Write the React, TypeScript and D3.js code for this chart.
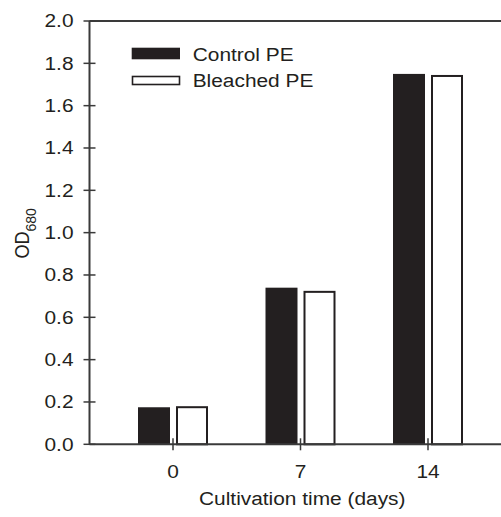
import React from "react";
import * as d3 from "d3";

const days = [0, 7, 14];
const dayLabels = ["0", "7", "14"];
const series = ["Control PE", "Bleached PE"];
const controlValues = [0.175, 0.74, 1.75];
const bleachedValues = [0.18, 0.725, 1.745];
const yTicks = [0, 0.2, 0.4, 0.6, 0.8, 1.0, 1.2, 1.4, 1.6, 1.8, 2.0];

const W = 501;
const H = 517;
const INK = "#231f20";
const AXIS = "#3a3a3a";
const FONT = "'Liberation Sans', Arial, Helvetica, sans-serif";
const SX = 1.16;

function T(props: {
  x: number;
  y: number;
  anchor?: string;
  baseline?: string;
  size?: number;
  children: React.ReactNode;
}) {
  const { x, y, anchor = "start", baseline, size = 18, children } = props;
  return (
    <text
      transform={`translate(${x},${y}) scale(${SX},1)`}
      textAnchor={anchor}
      dominantBaseline={baseline}
      fontSize={size}
      fill={INK}
    >
      {children}
    </text>
  );
}

export default function App() {
  const left = 89.5;
  const top = 21;
  const bottom = 444.3;
  const x = d3.scaleLinear().domain([0, 14]).range([173, 428]);
  const xEnd = x.invert(515);
  const xMin = x.invert(left);
  const y = d3.scaleLinear().domain([0, 2]).range([bottom, top]);
  const sub = d3.scaleBand<string>().domain(series).range([-35, 35]).paddingInner(0.158);
  const bw = sub.bandwidth();
  const valuesBySeries = [controlValues, bleachedValues];
  const axisMid = (x(xMin) + x(xEnd)) / 2;

  return (
    <div style={{ position: "fixed", left: 0, top: 0, width: W, height: H, overflow: "hidden", background: "#fff" }}>
      <svg width={W} height={H} style={{ display: "block", background: "#fff" }} fontFamily={FONT}>
        {series.map((s, si) =>
          days.map((d, i) => {
            const v = valuesBySeries[si][i];
            const x0 = x(d) + (sub(s) as number);
            return si === 0 ? (
              <rect key={s + d} x={x0} y={y(v)} width={bw} height={y(0) - y(v)} fill={INK} />
            ) : (
              <rect
                key={s + d}
                x={x0 + 1}
                y={y(v) + 1}
                width={bw - 2}
                height={y(0) - y(v) - 1}
                fill="#fff"
                stroke={INK}
                strokeWidth={2}
              />
            );
          })
        )}
        <line x1={left} x2={x(xEnd)} y1={top} y2={top} stroke={AXIS} strokeWidth={2} />
        <line x1={left} x2={left} y1={top} y2={bottom} stroke={AXIS} strokeWidth={2} />
        {yTicks.map((t) => (
          <g key={t}>
            <line x1={left - 6} x2={left + 6} y1={y(t)} y2={y(t)} stroke={AXIS} strokeWidth={1.5} />
            <T x={left - 16} y={y(t)} anchor="end" baseline="central">
              {d3.format(".1f")(t)}
            </T>
          </g>
        ))}
        <line x1={x(xMin)} x2={x(xEnd)} y1={bottom} y2={bottom} stroke={AXIS} strokeWidth={2} />
        {days.map((d, i) => (
          <g key={d}>
            <line x1={x(d)} x2={x(d)} y1={bottom - 6} y2={bottom + 6} stroke={AXIS} strokeWidth={1.5} />
            <T x={x(d)} y={478} anchor="middle">
              {dayLabels[i]}
            </T>
          </g>
        ))}
        <T x={axisMid} y={505} anchor="middle">
          Cultivation time (days)
        </T>
        <text
          transform={`translate(${29},${233.4}) rotate(-90) scale(1,1.08)`}
          textAnchor="middle"
          fontSize={18}
          fill={INK}
        >
          OD
          <tspan fontSize={14} dy={6.5}>680</tspan>
        </text>
        <rect x={131.7} y={47.7} width={48.3} height={11.6} fill={INK} />
        <T x={192.7} y={61}>Control PE</T>
        <rect x={132.5} y={76.5} width={47} height={8} fill="#fff" stroke={INK} strokeWidth={1.6} />
        <T x={192.7} y={87}>Bleached PE</T>
      </svg>
    </div>
  );
}
